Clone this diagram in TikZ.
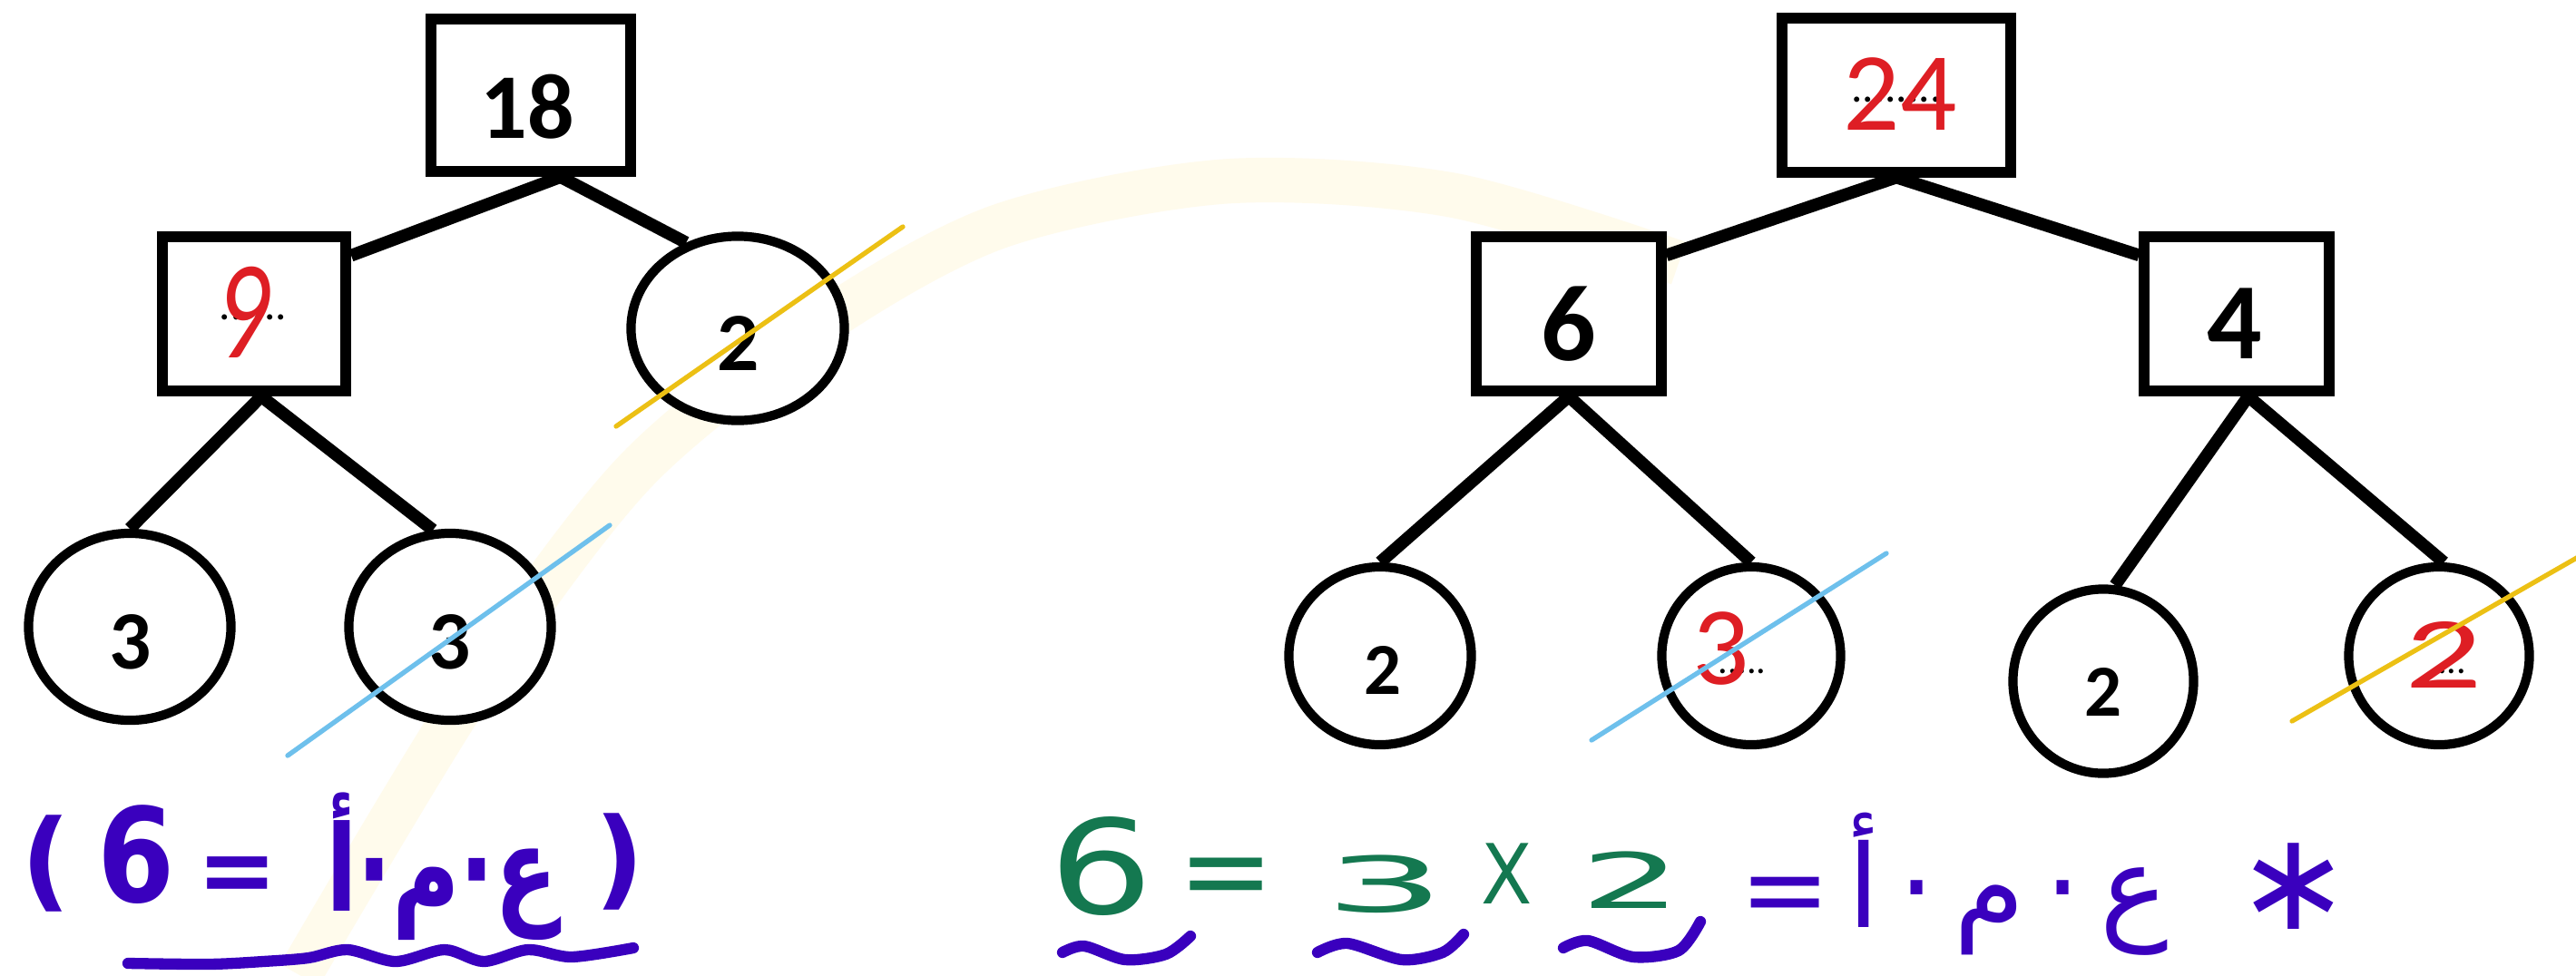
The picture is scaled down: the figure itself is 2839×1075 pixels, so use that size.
\documentclass[tikz,border=0pt]{standalone}
\usepackage{fontspec}
\usepackage{graphicx}
\setmainfont{Carlito}
\newfontfamily\djv{DejaVu Sans}
\newfontfamily\arabicfont[Script=Arabic]{DejaVu Sans}
\TeXXeTstate=1
\usetikzlibrary{shapes.geometric,backgrounds}
\definecolor{hwred}{RGB}{222,30,36}
\definecolor{hwgreen}{RGB}{20,120,80}
\definecolor{hwpurple}{RGB}{58,0,190}
\definecolor{hwyellow}{RGB}{236,192,20}
\definecolor{hwblue}{RGB}{110,192,236}
\definecolor{wmark}{RGB}{255,251,236}
\begin{document}
\begin{tikzpicture}[x=0.01cm,y=-0.01cm,
  box/.style={draw=black, line width=3.4pt, fill=white, rectangle, inner sep=0pt},
  circ/.style={draw=black, line width=2.9pt, fill=white, ellipse, inner sep=0pt},
  edge/.style={line width=3.9pt, black},
  strike/.style={line width=1.5pt, line cap=round},
  num/.style={inner sep=0pt, font=\bfseries},
  hand/.style={inner sep=0pt, text=hwred},
  dots/.style={inner sep=0pt, text=black},
  eq/.style={inner sep=0pt},
  wave/.style={line width=3.5pt, hwpurple, line cap=round, line join=round}
]
\useasboundingbox (0,0) rectangle (2839,1075);
% tree 1
\node[box, minimum width=2.19cm, minimum height=1.68cm] (b18) at (585,105) {};
\node[box, minimum width=2.02cm, minimum height=1.70cm] (b9) at (280,346) {};
\node[circ, minimum width=2.35cm, minimum height=2.03cm] (c2a) at (813,362) {};
\node[circ, minimum width=2.23cm, minimum height=2.06cm] (c3a) at (143,691) {};
\node[circ, minimum width=2.23cm, minimum height=2.06cm] (c3b) at (496,691) {};
% tree 2
\node[box, minimum width=2.52cm, minimum height=1.69cm] (b24) at (2090,105) {};
\node[box, minimum width=2.03cm, minimum height=1.70cm] (b6) at (1729,346) {};
\node[box, minimum width=2.03cm, minimum height=1.70cm] (b4) at (2465,346) {};
\node[circ, minimum width=2.01cm, minimum height=1.96cm] (c2b) at (1521,723) {};
\node[circ, minimum width=1.97cm, minimum height=1.96cm] (c3c) at (1930,723) {};
\node[circ, minimum width=1.99cm, minimum height=2.03cm] (c2c) at (2318,751) {};
\node[circ, minimum width=1.99cm, minimum height=1.96cm] (c2d) at (2688,723) {};
\begin{scope}[on background layer]
  \fill[white] (0,0) rectangle (2839,1075);
  \draw[wmark, line width=14pt] plot[smooth] coordinates {(330,1075) (520,760) (700,520) (900,360) (1100,250) (1350,200) (1600,215) (1850,290)};
  \draw[edge] (b18.-70) -- (b9.31);
  \draw[edge] (b18.-70) -- (c2a.121);
  \draw[edge] (b9.-85) -- (c3a.north);
  \draw[edge] (b9.-85) -- (c3b.100);
  \draw[edge] (b24.south) -- (b6.31);
  \draw[edge] (b24.south) -- (b4.149);
  \draw[edge] (b6.south) -- (c2b.north);
  \draw[edge] (b6.south) -- (c3c.north);
  \draw[edge] (b4.-82) -- (c2c.83);
  \draw[edge] (b4.-82) -- (c2d.87);
\end{scope}
% numbers
\node[num, font=\bfseries\fontsize{29}{30}\selectfont] (t18) at (581,118) {18};
\node[dots, font=\fontsize{14}{14}\selectfont] (d9) at (279,350) {......};
\node[hand, font=\itshape\fontsize{44}{44}\selectfont] (t9) at (268,344) {\scalebox{0.75}[1]{9}};
\node[num, font=\bfseries\fontsize{26}{26}\selectfont] (t2a) at (814,379) {2};
\node[num, font=\bfseries\fontsize{26}{26}\selectfont] (t3a) at (144,708) {3};
\node[num, font=\bfseries\fontsize{26}{26}\selectfont] (t3b) at (496,708) {3};
\node[dots, font=\fontsize{14}{14}\selectfont] (d24) at (2090,110) {........};
\node[hand, font=\fontsize{35}{35}\selectfont] (t24) at (2094,104) {24};
\node[num, font=\bfseries\fontsize{34}{34}\selectfont] (t6) at (1729,357) {6};
\node[num, font=\bfseries\fontsize{34}{34}\selectfont] (t4) at (2463,357) {4};
\node[num, font=\bfseries\fontsize{23}{23}\selectfont] (t2b) at (1524,739) {2};
\node[dots, font=\fontsize{12}{12}\selectfont] (d3c) at (1920,740) {.....};
\node[hand, font=\fontsize{35}{35}\selectfont] (t3c) at (1897,715) {3};
\node[num, font=\bfseries\fontsize{23}{23}\selectfont] (t2c) at (2318,763) {2};
\node[dots, font=\fontsize{12}{12}\selectfont] (d2d) at (2702,740) {...};
\node[hand, font=\fontsize{32}{32}\selectfont] (t2d) at (2693,722) {\scalebox{1.5}[1]{2}};
% left equation
\node[eq, text=hwpurple, font=\djv\bfseries\fontsize{34}{34}\selectfont] (lp) at (51,952) {(};
\node[eq, text=hwpurple, font=\djv\bfseries\fontsize{41}{41}\selectfont] (l6) at (150,942) {\scalebox{0.85}[1]{6}};
\node[eq, text=hwpurple, font=\djv\bfseries\fontsize{30}{30}\selectfont] (leq) at (262,970) {=};
\node[eq, text=hwpurple, font=\arabicfont\bfseries\fontsize{34}{34}\selectfont] (lar) at (487,955) {\scalebox{0.85}[1.1]{\beginR ع·م·أ\endR}};
\node[eq, text=hwpurple, font=\djv\bfseries\fontsize{34}{34}\selectfont] (rp) at (683,950) {)};
\draw[wave] plot[smooth] coordinates {(141,1062) (230,1063) (290,1060) (340,1056) (383,1047) (436,1060) (490,1047) (533,1060) (582,1047) (630,1055) (698,1045)};
% right equation
\node[eq, text=hwgreen, font=\djv\fontsize{41}{41}\selectfont] (r6) at (1214,955) {\scalebox{1.25}[1]{6}};
\node[eq, text=hwgreen, font=\djv\fontsize{36}{36}\selectfont] (req1) at (1352,975) {=};
\node[eq, text=hwgreen, font=\djv\fontsize{24}{24}\selectfont] (r3) at (1527,975) {\scalebox{2.5}[1]{3}};
\node[eq, text=hwgreen, font=\djv\fontsize{26}{26}\selectfont] (rx) at (1661,963) {\scalebox{0.9}[1]{X}};
\node[eq, text=hwgreen, font=\djv\fontsize{24}{24}\selectfont] (r2) at (1798,970) {\scalebox{2.1}[1]{2}};
\node[eq, text=hwpurple, font=\djv\fontsize{34}{34}\selectfont] (req2) at (1968,994) {=};
\node[eq, text=hwpurple, font=\arabicfont\fontsize{36}{36}\selectfont] (rar) at (2213,975) {\beginR ع\,·\,م\,·\,أ\endR};
\node[eq, text=hwpurple, font=\djv\fontsize{43}{43}\selectfont] (rast) at (2528,977) {∗};
\draw[wave] plot[smooth] coordinates {(1171,1050) (1195,1043) (1240,1058) (1285,1052) (1312,1032)};
\draw[wave] plot[smooth] coordinates {(1452,1050) (1485,1040) (1545,1058) (1590,1050) (1613,1030)};
\draw[wave] plot[smooth] coordinates {(1723,1045) (1750,1037) (1800,1055) (1850,1048) (1874,1016)};
% strike-throughs
\draw[strike, hwyellow] (679,470) -- (995,250);
\draw[strike, hwblue] (317,833) -- (672,579);
\draw[strike, hwblue] (1754,816) -- (2079,610);
\draw[strike, hwyellow] (2526,795) -- (2845,612);
\end{tikzpicture}
\end{document}
